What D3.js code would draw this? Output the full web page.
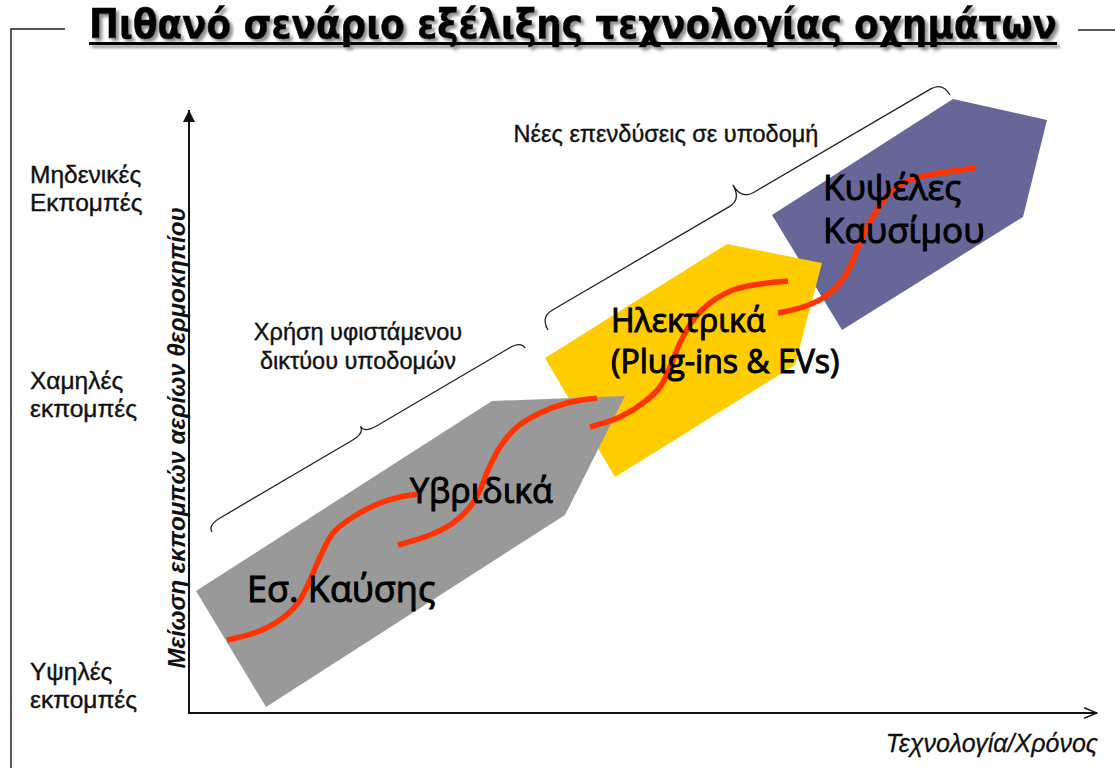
<!DOCTYPE html>
<html>
<head>
<meta charset="utf-8">
<script src="https://cdn.jsdelivr.net/npm/d3@7/dist/d3.min.js"></script>
<style>
  html, body { margin: 0; padding: 0; background: #ffffff; }
  svg { display: block; }
</style>
</head>
<body>
<svg id="chart" width="1115" height="768"></svg>
<script>
// ---------------- DATA (diagram units: x = technology/time, y = emission reduction) ----------------
const titleText = "Πιθανό σενάριο εξέλιξης τεχνολογίας οχημάτων";
const xAxisTitle = "Τεχνολογία/Χρόνος";
const yAxisTitle = "Μείωση εκπομπών αερίων θερμοκηπίου";

// emission level labels on the vertical axis
const levelLabels = [["Υψηλές", "εκπομπές"], ["Χαμηλές", "εκπομπές"], ["Μηδενικές", "Εκπομπές"]];
const levelValues = [33, 324, 530];

// technology stage arrows (polygons)
const combustionHybridShape = [[7, 122], [303, 312], [436, 317], [376, 198], [77, 6]];
const electricShape = [[356, 355], [538, 469], [633, 450], [606, 348], [426, 236]];
const fuelCellShape = [[583, 498], [764, 614], [858, 593], [834, 496], [653, 383]];

// S-curves of each technology
const curveCombustion = [[38, 73], [68, 81], [91, 93], [109, 110], [121, 133], [131, 156], [144, 180], [164, 196], [191, 210], [211, 216], [231, 219]];
const curveHybrid = [[209, 168], [241, 178], [264, 190], [281, 206], [291, 223], [299, 243], [311, 266], [328, 286], [351, 300], [378, 310], [408, 315]];
const curveElectric = [[401, 286], [431, 296], [454, 310], [471, 326], [481, 346], [491, 370], [504, 393], [521, 410], [544, 423], [571, 429], [599, 432]];
const curveFuelCell = [[589, 400], [614, 406], [634, 415], [651, 430], [661, 446], [669, 466], [678, 486], [688, 503], [701, 520], [721, 533], [751, 540], [786, 545]];

// stage labels
const stageLabels = [
  { lines: ["Εσ. Καύσης"], x: 58, y: 111 },
  { lines: ["Υβριδικά"], x: 221, y: 210 },
  { lines: ["Ηλεκτρικά", "(Plug-ins & EVs)"], x: 422, y: 381 },
  { lines: ["Κυψέλες", "Καυσίμου"], x: 634, y: 513 }
];

// braces (infrastructure phases)
const braceExisting = { from: [23, 181], to: [336, 365], lines: ["Χρήση υφιστάμενου", "δικτύου υποδομών"], lx: 169, ly: 373 };
const braceNew = { from: [359, 383], to: [761, 618], lines: ["Νέες επενδύσεις σε υποδομή"], lx: 477, ly: 571 };

// ---------------- STYLE ----------------
const colors = { gray: "#999999", yellow: "#FFCC00", purple: "#666699", curve: "#FF3300", ink: "#111111" };
const smallFont = "'Liberation Sans', Arial, sans-serif";
const bigFont = "'Open Sans', 'Noto Sans', sans-serif";

// ---------------- DRAW ----------------
const svg = d3.select("#chart");
const x = d3.scaleLinear().domain([0, 908]).range([189, 1097]);
const y = d3.scaleLinear().domain([0, 603]).range([713, 110]);

const defs = svg.append("defs");
const shadow = defs.append("filter").attr("id", "shadow").attr("x", "-5%").attr("y", "-30%").attr("width", "110%").attr("height", "160%");
shadow.append("feDropShadow").attr("dx", 3).attr("dy", 3).attr("stdDeviation", 1.6)
  .attr("flood-color", "#7f7f7f").attr("flood-opacity", 0.85);
defs.append("marker").attr("id", "arrowUp").attr("viewBox", "0 0 10 10").attr("refX", 10).attr("refY", 5)
  .attr("markerWidth", 6).attr("markerHeight", 6).attr("markerUnits", "strokeWidth").attr("orient", "auto")
  .append("path").attr("d", "M0,0 L10,5 L0,10 Z").attr("fill", colors.ink);
defs.append("marker").attr("id", "arrowOpen").attr("viewBox", "0 0 12 10").attr("refX", 11).attr("refY", 5)
  .attr("markerWidth", 7).attr("markerHeight", 6).attr("markerUnits", "strokeWidth").attr("orient", "auto")
  .append("path").attr("d", "M0,0.5 L11,5 L0,9.5").attr("fill", "none").attr("stroke", colors.ink).attr("stroke-width", 1.2);

// frame around the title
svg.append("path").attr("d", "M65,29 L11,29 L11,768").attr("fill", "none").attr("stroke", "#222").attr("stroke-width", 1.5);
svg.append("line").attr("x1", 1078).attr("x2", 1115).attr("y1", 30).attr("y2", 30).attr("stroke", "#222").attr("stroke-width", 1.5);

// title
const tg = svg.append("g").attr("filter", "url(#shadow)");
tg.append("text").attr("x", 573).attr("y", 38).attr("text-anchor", "middle")
  .attr("font-family", "'Liberation Sans Narrow', 'DejaVu Sans Condensed', 'Liberation Sans', sans-serif")
  .attr("font-weight", "bold").attr("font-size", 40).attr("fill", "#000").attr("stroke", "#000").attr("stroke-width", 0.6)
  .attr("textLength", 968).attr("lengthAdjust", "spacingAndGlyphs").text(titleText);
tg.append("rect").attr("x", 89).attr("y", 42).attr("width", 968).attr("height", 3).attr("fill", "#000");

// polygons (back to front)
const poly = d3.line().x(d => x(d[0])).y(d => y(d[1]));
[[fuelCellShape, colors.purple], [electricShape, colors.yellow], [combustionHybridShape, colors.gray]].forEach(([pts, c]) => {
  svg.append("path").attr("d", poly(pts) + "Z").attr("fill", c);
});

// S-curves
const curve = d3.line().x(d => x(d[0])).y(d => y(d[1])).curve(d3.curveCatmullRom.alpha(0.5));
[curveCombustion, curveHybrid, curveElectric, curveFuelCell].forEach(pts => {
  svg.append("path").attr("d", curve(pts)).attr("fill", "none").attr("stroke", colors.curve)
    .attr("stroke-width", 5.5).attr("stroke-linecap", "butt");
});

// stage labels
const stageSizes = [36, 34, 32, 35];
const stageLineHeights = [0, 0, 41, 43];
stageLabels.forEach((s, i) => {
  s.lines.forEach((t, j) => {
    svg.append("text").attr("x", x(s.x)).attr("y", y(s.y) + j * stageLineHeights[i])
      .attr("font-family", bigFont).attr("font-size", stageSizes[i])
      .attr("fill", "#000").attr("stroke", "#000").attr("stroke-width", 1.0).text(t);
  });
});

// braces
function drawBrace(b, hTip, hBody) {
  const ax = x(b.from[0]), ay = y(b.from[1]), bx = x(b.to[0]), by = y(b.to[1]);
  const L = Math.hypot(bx - ax, by - ay);
  const ang = Math.atan2(by - ay, bx - ax) * 180 / Math.PI;
  const r = 14, m = L / 2;
  const d = `M0,0 Q0,${-hBody} ${r},${-hBody} L${m - r},${-hBody} Q${m},${-hBody} ${m},${-hTip}` +
            ` Q${m},${-hBody} ${m + r},${-hBody} L${L - r},${-hBody} Q${L},${-hBody} ${L},0`;
  svg.append("path").attr("d", d).attr("transform", `translate(${ax},${ay}) rotate(${ang})`)
    .attr("fill", "none").attr("stroke", "#222").attr("stroke-width", 1.3);
  b.lines.forEach((t, j) => {
    svg.append("text").attr("x", x(b.lx)).attr("y", y(b.ly) + j * 29).attr("text-anchor", "middle")
      .attr("font-family", smallFont).attr("font-size", 23.5).attr("fill", "#111")
      .attr("stroke", "#111").attr("stroke-width", 0.4).text(t);
  });
}
drawBrace(braceExisting, 16, 8);
drawBrace(braceNew, 32, 15);

// axes
svg.append("line").attr("x1", x(0)).attr("y1", y(0)).attr("x2", x(0)).attr("y2", y(603))
  .attr("stroke", colors.ink).attr("stroke-width", 2).attr("marker-end", "url(#arrowUp)");
svg.append("line").attr("x1", x(0) - 1).attr("y1", y(0)).attr("x2", x(908)).attr("y2", y(0))
  .attr("stroke", colors.ink).attr("stroke-width", 2).attr("marker-end", "url(#arrowOpen)");

// level labels
levelLabels.forEach((lines, i) => {
  lines.forEach((t, j) => {
    svg.append("text").attr("x", 30).attr("y", y(levelValues[i]) + j * 28)
      .attr("font-family", smallFont).attr("font-size", 24.5).attr("fill", "#111")
      .attr("stroke", "#111").attr("stroke-width", 0.4).text(t);
  });
});

// axis titles
svg.append("text").attr("transform", `translate(185,${y(275)}) rotate(-90)`).attr("text-anchor", "middle")
  .attr("font-family", smallFont).attr("font-size", 24)
  .attr("font-weight", "bold").attr("font-style", "italic").attr("fill", "#111").text(yAxisTitle);
svg.append("text").attr("x", 1098).attr("y", 752).attr("text-anchor", "end")
  .attr("font-family", smallFont).attr("font-size", 25)
  .attr("font-style", "italic").attr("fill", "#111").attr("stroke", "#111").attr("stroke-width", 0.3).text(xAxisTitle);
</script>
</body>
</html>
